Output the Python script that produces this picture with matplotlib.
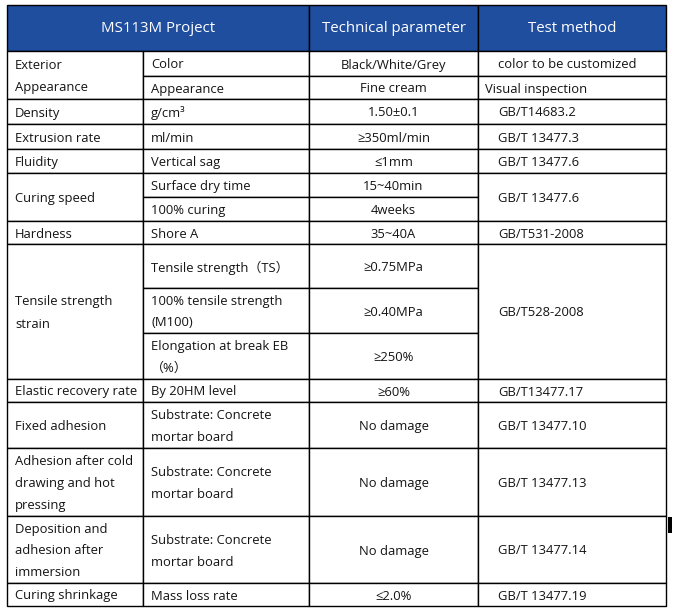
import matplotlib.pyplot as plt
from matplotlib.patches import Rectangle

plt.rcParams['font.family'] = ['Open Sans', 'Noto Sans CJK SC', 'DejaVu Sans']

# table content
headers = ['MS113M Project', 'Technical parameter', 'Test method']

groups = ['Exterior\nAppearance', 'Density', 'Extrusion rate', 'Fluidity',
          'Curing speed', 'Hardness', 'Tensile strength\nstrain',
          'Elastic recovery rate', 'Fixed adhesion',
          'Adhesion after cold\ndrawing and hot\npressing',
          'Deposition and\nadhesion after\nimmersion', 'Curing shrinkage']
group_spans = [2, 1, 1, 1, 2, 1, 3, 1, 1, 1, 1, 1]

items = ['Color', 'Appearance', 'g/cm³', 'ml/min', 'Vertical sag',
         'Surface dry time', '100% curing', 'Shore A',
         'Tensile strength（TS）', '100% tensile strength\n(M100)',
         'Elongation at break EB\n（%）', 'By 20HM level',
         'Substrate: Concrete\nmortar board', 'Substrate: Concrete\nmortar board',
         'Substrate: Concrete\nmortar board', 'Mass loss rate']

params = ['Black/White/Grey', 'Fine cream', '1.50±0.1', '≥350ml/min', '≤1mm',
          '15~40min', '4weeks', '35~40A', '≥0.75MPa', '≥0.40MPa', '≥250%',
          '≥60%', 'No damage', 'No damage', 'No damage', '≤2.0%']

methods = ['color to be customized', 'Visual inspection', 'GB/T14683.2',
           'GB/T 13477.3', 'GB/T 13477.6', 'GB/T 13477.6', 'GB/T531-2008',
           'GB/T528-2008', 'GB/T13477.17', 'GB/T 13477.10', 'GB/T 13477.13',
           'GB/T 13477.14', 'GB/T 13477.19']
method_spans = [1, 1, 1, 1, 1, 2, 1, 3, 1, 1, 1, 1, 1]

# layout in pixels
col_x = [7, 143, 309, 478, 666]
top = 5
header_h = 46
row_h = [25, 23, 25, 25, 24, 24, 24, 23, 44, 45, 46, 23, 46, 68, 67, 23]
method_pad = [20, 7, 20, 20, 20, 20, 20, 20, 20, 20, 20, 20, 20]
line_gap = 22
text_dy = 1.5
blue = '#1f4e9f'
ink = '#141414'
fs = 9.4

fig = plt.figure(figsize=(6.73, 6.14), dpi=100)
ax = fig.add_axes([0, 0, 1, 1])
ax.set_xlim(0, 673)
ax.set_ylim(614, 0)
ax.axis('off')

row_y = [top + header_h]
for h in row_h:
    row_y.append(row_y[-1] + h)


def cell(x0, x1, y0, y1, fc='white'):
    ax.add_patch(Rectangle((x0, y0), x1 - x0, y1 - y0, facecolor=fc,
                           edgecolor='black', lw=1.0))


def put(text, x, yc, ha='left', **kw):
    lines = text.split('\n')
    y0 = yc + text_dy - (len(lines) - 1) * line_gap / 2
    for i, s in enumerate(lines):
        ax.text(x, y0 + i * line_gap, s, ha=ha, va='center', fontsize=fs,
                color=ink, **kw)


# header
hx = [(col_x[0], col_x[2]), (col_x[2], col_x[3]), (col_x[3], col_x[4])]
for (x0, x1), h in zip(hx, headers):
    cell(x0, x1, top, top + header_h, fc=blue)
    ax.text((x0 + x1) / 2, top + header_h / 2 + 0.5, h, ha='center',
            va='center', fontsize=10.8, color='white')

# column 1
r = 0
for g, n in zip(groups, group_spans):
    y0, y1 = row_y[r], row_y[r + n]
    cell(col_x[0], col_x[1], y0, y1)
    put(g, col_x[0] + 8, (y0 + y1) / 2)
    r += n

# columns 2 and 3
for i, (it, p) in enumerate(zip(items, params)):
    y0, y1 = row_y[i], row_y[i + 1]
    cell(col_x[1], col_x[2], y0, y1)
    cell(col_x[2], col_x[3], y0, y1)
    put(it, col_x[1] + 8, (y0 + y1) / 2)
    put(p, (col_x[2] + col_x[3]) / 2, (y0 + y1) / 2, ha='center')

# column 4
r = 0
for m, n, pad in zip(methods, method_spans, method_pad):
    y0, y1 = row_y[r], row_y[r + n]
    cell(col_x[3], col_x[4], y0, y1)
    put(m, col_x[3] + pad, (y0 + y1) / 2)
    r += n

# small black mark at the right edge
ax.add_patch(Rectangle((668, 517), 4, 16, facecolor='black', edgecolor='none'))

fig.savefig('out.png', dpi=100)
